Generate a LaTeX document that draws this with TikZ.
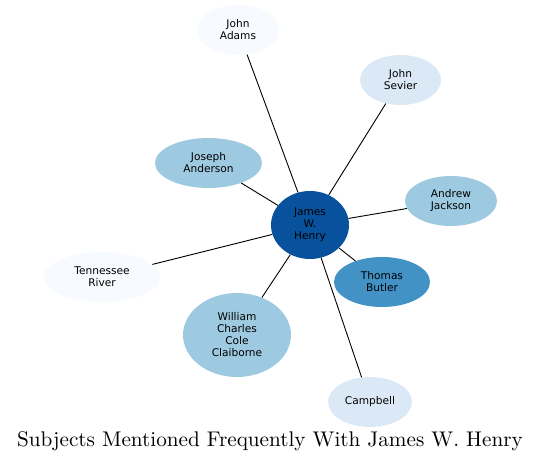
\documentclass[tikz,border=0pt]{standalone}
\usepackage{fontspec}
\newfontfamily\nodefont{DejaVu Sans}
\newfontfamily\titlefont{lmroman10-regular}[Extension=.otf]
\usetikzlibrary{shapes.geometric}
\definecolor{c0}{HTML}{F7FBFF}
\definecolor{c1}{HTML}{DBE9F6}
\definecolor{c2}{HTML}{9ECAE1}
\definecolor{c3}{HTML}{4292C6}
\definecolor{c4}{HTML}{08519C}
\tikzset{
  ent/.style={ellipse, inner sep=0pt, align=center, font=\nodefont\fontsize{10.6}{12}\selectfont, text=black},
  link/.style={draw=black, line width=0.9pt}
}
\begin{document}
\begin{tikzpicture}[x=1pt,y=-1pt]
\useasboundingbox (0,0) rectangle (541,463);
\node[ent, fill=c4, minimum width=78pt, minimum height=68pt] (henry) at (310,225) {James\\W.\\Henry};
\node[ent, fill=c0, minimum width=82pt, minimum height=50pt] (adams) at (238,30) {John\\Adams};
\node[ent, fill=c1, minimum width=81pt, minimum height=50pt] (sevier) at (400.5,80) {John\\Sevier};
\node[ent, fill=c2, minimum width=107pt, minimum height=50pt] (anderson) at (208.5,163) {Joseph\\Anderson};
\node[ent, fill=c2, minimum width=92pt, minimum height=50pt] (jackson) at (451,201) {Andrew\\Jackson};
\node[ent, fill=c3, minimum width=96pt, minimum height=50pt] (butler) at (382,282) {Thomas\\Butler};
\node[ent, fill=c0, minimum width=116pt, minimum height=50pt] (river) at (102,277) {Tennessee\\River};
\node[ent, fill=c2, minimum width=108pt, minimum height=84pt] (claiborne) at (237,335) {William\\Charles\\Cole\\Claiborne};
\node[ent, fill=c1, minimum width=84pt, minimum height=50pt] (campbell) at (370,402) {Campbell};
\foreach \n in {adams,sevier,anderson,jackson,butler,river,claiborne,campbell}
  \draw[link] (henry) -- (\n);
\node[font=\titlefont\fontsize{21.2}{24}\selectfont, inner sep=0pt] (title) at (270,441) {Subjects Mentioned Frequently With James W. Henry};
\end{tikzpicture}
\end{document}
